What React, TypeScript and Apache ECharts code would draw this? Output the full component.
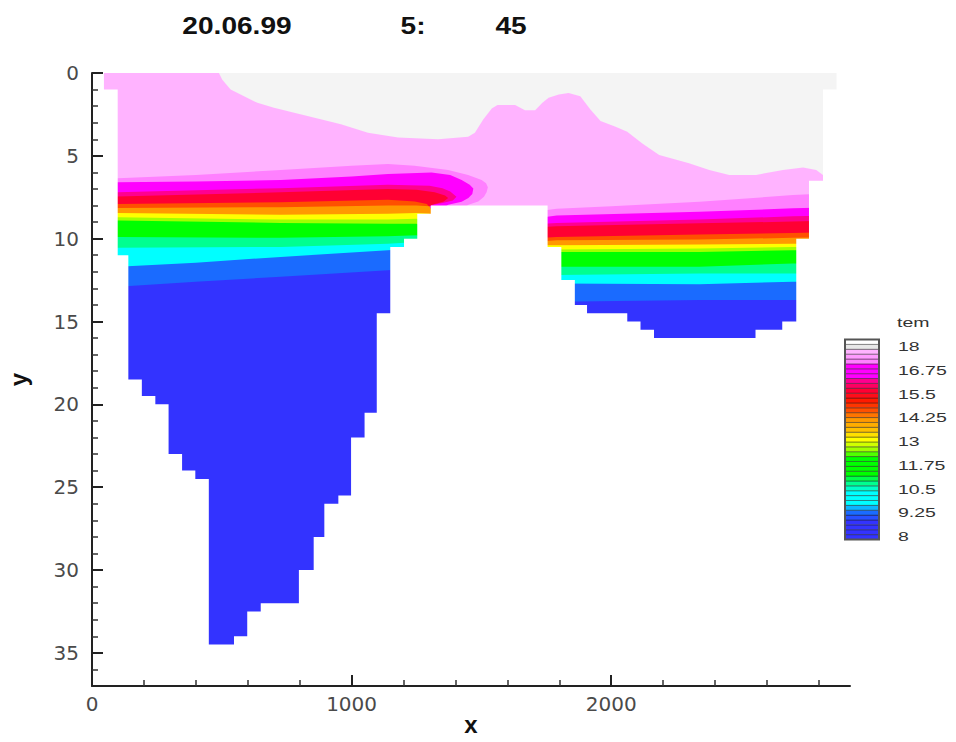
import { useEffect, useRef } from 'react';
import * as echarts from 'echarts';

// ---------- axes ----------
const X_MAX = 2920;
const Y_MAX = 37;
const xMajorTicks = [0, 1000, 2000];
const xMinorTicks = [200, 400, 600, 800, 1200, 1400, 1600, 1800, 2200, 2400, 2600, 2800];
const yMajorTicks = [0, 5, 10, 15, 20, 25, 30, 35];
const yMinorTicks = [1, 2, 3, 4, 6, 7, 8, 9, 11, 12, 13, 14, 16, 17, 18, 19, 21, 22, 23, 24, 26, 27, 28, 29, 31, 32, 33, 34, 36];

// ---------- header ----------
const headerTexts = ['20.06.99', '5:', '45'];

// ---------- model grid: column edges (m) and bottom depth (m) ----------
const columnEdges = [46, 99, 140, 192, 244, 295, 347, 398, 450, 547, 598, 650, 797, 854, 895, 949, 998, 1050, 1097, 1149, 1202, 1253, 1305, 1755, 1808, 1860, 1907, 2062, 2113, 2165, 2556, 2659, 2713, 2762, 2816, 2868];
const columnBottoms = [1, 11, 18.5, 19.5, 20, 23, 24, 24.5, 34.5, 34, 32.5, 32, 30, 28, 26, 25.5, 22, 20.5, 14.5, 10.5, 10, 8.5, 8, 10.5, 12.5, 14, 14.5, 15, 15.5, 16, 15.5, 15, 10, 6.5, 1];

// ---------- temperature field (isotherm depths) ----------
const surfaceColor = '#f4f4f4'; // warmer than 17.75
// isotherm temperatures (°C) and the fill of the colder side
const isothermTemps = [17.75, 17.25, 17, 16.25, 15.75, 15, 14.25, 13.5, 13, 12.25, 11.25, 10.5, 9.75, 9];
const bandFills = ['#ffb3ff', '#ff80ff', '#ff00ff', '#ff0090', '#ff0033', '#ff5000', '#ff9900', '#ffff00', '#a0ff00', '#00ff00', '#00ff90', '#00ffff', '#1a6bff', '#3333ff'];

// 17.75 isotherm across the whole section [x, depth]
const surfaceIsotherm = [[46, 0], [489, 0], [502, 0.4], [534, 1.0], [637, 1.8], [701, 2.1], [830, 2.6], [959, 3.1], [1063, 3.6], [1179, 3.9], [1333, 4.0], [1449, 3.85], [1475, 3.6], [1507, 2.8], [1540, 2.15], [1562, 1.93], [1630, 1.93], [1668, 2.25], [1707, 2.25], [1735, 1.8], [1759, 1.5], [1798, 1.3], [1836, 1.2], [1881, 1.4], [1920, 2.2], [1959, 2.9], [2017, 3.25], [2062, 3.55], [2120, 4.25], [2185, 4.95], [2300, 5.45], [2378, 5.85], [2455, 6.15], [2558, 6.15], [2662, 5.85], [2739, 5.7], [2790, 5.85], [2816, 6.15], [2868, 6.3]];

// western basin isotherms 17.25 ... 9
const westIsotherms = [
  [[46, 6.4], [100, 6.35], [400, 6.15], [727, 5.86], [1000, 5.6], [1140, 5.5], [1243, 5.6], [1372, 5.86], [1449, 6.16], [1501, 6.46], [1518, 6.65], [1525, 6.9], [1520, 7.2], [1510, 7.47], [1488, 7.75], [1450, 7.95], [1420, 8.3]],
  [[46, 6.65], [100, 6.6], [400, 6.55], [727, 6.46], [1000, 6.25], [1140, 6.1], [1308, 6.0], [1380, 6.15], [1424, 6.46], [1455, 6.75], [1469, 6.97], [1465, 7.3], [1450, 7.55], [1424, 7.77], [1372, 7.95], [1340, 8.3]],
  [[46, 7.2], [100, 7.2], [727, 6.95], [1140, 6.75], [1300, 6.8], [1350, 6.95], [1380, 7.15], [1404, 7.47], [1390, 7.7], [1350, 7.85], [1300, 8.0], [1280, 8.3]],
  [[46, 7.45], [100, 7.45], [727, 7.2], [1140, 7.0], [1250, 7.05], [1320, 7.2], [1360, 7.4], [1372, 7.55], [1355, 7.75], [1310, 7.95], [1280, 8.3]],
  [[46, 7.9], [100, 7.9], [727, 7.8], [1140, 7.65], [1243, 7.75], [1290, 7.9], [1310, 8.3]],
  [[46, 8.15], [100, 8.15], [727, 8.1], [1140, 8.0], [1250, 8.0], [1300, 8.05], [1320, 8.6]],
  [[46, 8.45], [100, 8.45], [727, 8.55], [1140, 8.5], [1250, 8.45], [1300, 8.5], [1320, 8.8]],
  [[46, 8.7], [100, 8.7], [727, 8.85], [1140, 8.85], [1250, 8.8], [1320, 9.2]],
  [[46, 8.9], [100, 8.9], [727, 9.05], [1140, 9.1], [1250, 9.1], [1320, 9.5]],
  [[46, 9.9], [100, 9.9], [727, 9.95], [1140, 9.85], [1250, 9.8], [1320, 10.2]],
  [[46, 10.55], [100, 10.55], [727, 10.5], [1140, 10.3], [1250, 10.2], [1320, 10.5]],
  [[46, 11.7], [100, 11.7], [400, 11.45], [727, 11.1], [1140, 10.7], [1250, 10.6], [1320, 10.9]],
  [[46, 12.9], [100, 12.9], [400, 12.6], [727, 12.3], [1140, 11.9], [1250, 11.8], [1320, 12.1]],
];

// eastern basin isotherms 17.25 ... 9
const eastIsotherms = [
  [[1740, 8.3], [1790, 8.2], [2000, 8.05], [2340, 7.77], [2700, 7.37], [2868, 7.25]],
  [[1740, 8.7], [1790, 8.6], [2340, 8.37], [2700, 8.17], [2868, 8.1]],
  [[1740, 9.1], [1790, 9.05], [2340, 8.85], [2700, 8.65], [2868, 8.6]],
  [[1740, 9.3], [1790, 9.25], [2340, 9.07], [2700, 8.97], [2868, 8.9]],
  [[1740, 9.95], [1790, 9.9], [2340, 9.75], [2700, 9.65], [2868, 9.6]],
  [[1740, 10.15], [1790, 10.1], [2340, 10.05], [2700, 9.95], [2868, 9.9]],
  [[1740, 10.4], [1790, 10.4], [2340, 10.35], [2700, 10.3], [2868, 10.3]],
  [[1740, 10.65], [1790, 10.65], [2340, 10.6], [2700, 10.5], [2868, 10.5]],
  [[1740, 10.8], [1790, 10.8], [2340, 10.8], [2700, 10.7], [2868, 10.7]],
  [[1740, 11.7], [1790, 11.7], [2340, 11.7], [2700, 11.5], [2868, 11.5]],
  [[1740, 12.2], [1790, 12.2], [2340, 12.1], [2700, 12.1], [2868, 12.1]],
  [[1740, 12.7], [1790, 12.7], [2340, 12.75], [2700, 12.6], [2868, 12.6]],
  [[1740, 13.8], [1790, 13.8], [2340, 13.7], [2700, 13.7], [2868, 13.7]],
];

// ---------- legend ----------
const legendTitle = 'tem';
const legendLevels = [8, 8.25, 8.5, 8.75, 9, 9.25, 9.5, 9.75, 10, 10.25, 10.5, 10.75, 11, 11.25, 11.5, 11.75, 12, 12.25, 12.5, 12.75, 13, 13.25, 13.5, 13.75, 14, 14.25, 14.5, 14.75, 15, 15.25, 15.5, 15.75, 16, 16.25, 16.5, 16.75, 17, 17.25, 17.5, 17.75, 18];
const legendLabels = ['18', '16.75', '15.5', '14.25', '13', '11.75', '10.5', '9.25', '8'];
const colorStops: [number, string][] = [
  [8, '#3333ff'], [8.75, '#3333ff'], [9.25, '#1a6bff'], [9.75, '#00ffff'], [10.25, '#00ffff'],
  [10.75, '#00ff90'], [11.25, '#00ff00'], [12, '#00ff00'], [12.5, '#a0ff00'], [13, '#ffff00'],
  [13.5, '#ffc000'], [14, '#ff9900'], [14.5, '#ff5000'], [15, '#ff1a00'], [15.5, '#ff0033'],
  [16, '#ff0090'], [16.25, '#ff00ff'], [16.75, '#ff00ff'], [17, '#ff80ff'], [17.5, '#ffb3ff'],
  [17.75, '#e8e8e8'], [18, '#ffffff'],
];

function hexToRgb(h: string) {
  const n = parseInt(h.slice(1), 16);
  return [(n >> 16) & 255, (n >> 8) & 255, n & 255];
}
function colorAt(t: number) {
  for (let i = 0; i < colorStops.length - 1; i++) {
    const [t0, c0] = colorStops[i];
    const [t1, c1] = colorStops[i + 1];
    if (t >= t0 && t <= t1) {
      const f = t1 === t0 ? 0 : (t - t0) / (t1 - t0);
      const a = hexToRgb(c0), b = hexToRgb(c1);
      const m = a.map((v, k) => Math.round(v + (b[k] - v) * f));
      return `rgb(${m[0]},${m[1]},${m[2]})`;
    }
  }
  return colorStops[colorStops.length - 1][1];
}

type Layer = { pts: number[][]; fill: string };

function closeDown(line: number[][]): number[][] {
  const first = line[0];
  const last = line[line.length - 1];
  return [...line, [last[0], Y_MAX], [first[0], Y_MAX]];
}

function buildLayers(): Layer[] {
  const layers: Layer[] = [];
  const x0 = columnEdges[0];
  const x1 = columnEdges[columnEdges.length - 1];
  layers.push({ pts: [[x0, 0], [x1, 0], [x1, Y_MAX], [x0, Y_MAX]], fill: surfaceColor });
  layers.push({ pts: closeDown(surfaceIsotherm), fill: bandFills[0] });
  for (let k = 0; k < westIsotherms.length; k++) {
    layers.push({ pts: closeDown(westIsotherms[k]), fill: bandFills[k + 1] });
    layers.push({ pts: closeDown(eastIsotherms[k]), fill: bandFills[k + 1] });
  }
  // land: everything below the stepped bottom (slightly wider than the water so no edge shows)
  const pad = 25;
  const mask: number[][] = [[x0 - pad, Y_MAX], [x0 - pad, columnBottoms[0]]];
  for (let i = 0; i < columnBottoms.length; i++) {
    mask.push([columnEdges[i], columnBottoms[i]], [columnEdges[i + 1], columnBottoms[i]]);
  }
  mask.push([x1 + pad, columnBottoms[columnBottoms.length - 1]], [x1 + pad, Y_MAX]);
  layers.push({ pts: mask, fill: '#ffffff' });
  return layers;
}

const GRID = { left: 92, top: 73, width: 758, height: 613 };

export default function App() {
  const ref = useRef<HTMLDivElement>(null);

  useEffect(() => {
    if (!ref.current) return;
    const chart = echarts.init(ref.current, null, { renderer: 'svg' });
    const layers = buildLayers();

    // legend geometry
    const barLeft = 845, barRight = 879, barTop = 339.5, barBottom = 539.5;
    const bandH = (barBottom - barTop) / legendLevels.length;
    const legendEls: any[] = legendLevels.map((lv, i) => ({
      type: 'rect',
      shape: { x: barLeft, y: barBottom - (i + 1) * bandH, width: barRight - barLeft, height: bandH },
      style: { fill: colorAt(lv), stroke: 'rgba(30,30,30,0.55)', lineWidth: 0.8 },
      silent: true,
    }));
    legendEls.push({
      type: 'rect',
      shape: { x: barLeft, y: barTop, width: barRight - barLeft, height: barBottom - barTop },
      style: { fill: 'none', stroke: '#555', lineWidth: 2 },
      silent: true,
    });
    legendLabels.forEach((lab) => {
      const t = parseFloat(lab);
      legendEls.push({
        type: 'text',
        x: 898,
        y: barBottom - 2.8 - ((t - 8) / 10) * (barBottom - barTop - 10),
        scaleX: 1.5,
        style: { text: lab, font: '13px "Liberation Sans"', fill: '#333', textAlign: 'left', textVerticalAlign: 'middle' },
        silent: true,
      });
    });
    legendEls.push({
      type: 'text', x: 897, y: 323, scaleX: 1.5,
      style: { text: legendTitle, font: '13px "Liberation Sans"', fill: '#333', textAlign: 'left', textVerticalAlign: 'middle' },
      silent: true,
    });

    const headerX = [237, 413, 511];
    const headerEls = headerTexts.map((t, i) => ({
      type: 'text', x: headerX[i], y: 26, scaleX: 1.17,
      style: { text: t, font: 'bold 24px "Liberation Sans"', fill: '#111', textAlign: 'center', textVerticalAlign: 'middle' },
      silent: true,
    }));

    const labelFont = { color: '#4a4a4a', fontFamily: 'DejaVu Sans', fontSize: 20 };
    const nameFont = { color: '#111', fontFamily: 'Liberation Sans', fontWeight: 'bold' as const, fontSize: 24, lineHeight: 24 };
    const plain = (v: number) => String(v);

    chart.setOption({
      animation: false,
      backgroundColor: '#ffffff',
      grid: [
        { ...GRID, containLabel: false, outerBoundsMode: 'none' },
        { ...GRID, containLabel: false, outerBoundsMode: 'none' },
      ],
      xAxis: [
        {
          gridIndex: 0, type: 'value', min: 0, max: X_MAX, position: 'bottom', z: 10,
          axisLine: { show: true, onZero: false, lineStyle: { color: '#222', width: 2 } },
          axisTick: { show: true, inside: true, length: 11, customValues: xMajorTicks, lineStyle: { color: '#222', width: 2 } },
          axisLabel: { show: true, customValues: xMajorTicks, margin: 8, formatter: plain, ...labelFont },
          splitLine: { show: false },
          name: 'x', nameLocation: 'middle', nameGap: 26, nameMoveOverlap: false, nameTextStyle: nameFont,
        },
        {
          gridIndex: 1, type: 'value', min: 0, max: X_MAX, position: 'bottom', z: 10,
          axisLine: { show: false, onZero: false },
          axisTick: { show: true, inside: true, length: 6, customValues: xMinorTicks, lineStyle: { color: '#333', width: 1.5 } },
          axisLabel: { show: false },
          splitLine: { show: false },
        },
      ],
      yAxis: [
        {
          gridIndex: 0, type: 'value', min: 0, max: Y_MAX, inverse: true, position: 'left', z: 10,
          axisLine: { show: true, onZero: false, lineStyle: { color: '#222', width: 2 } },
          axisTick: { show: true, inside: true, length: 11, customValues: yMajorTicks, lineStyle: { color: '#222', width: 2 } },
          axisLabel: { show: true, customValues: yMajorTicks, margin: 13, formatter: plain, ...labelFont },
          splitLine: { show: false },
          name: 'y', nameLocation: 'middle', nameGap: 62, nameMoveOverlap: false, nameTextStyle: nameFont,
        },
        {
          gridIndex: 1, type: 'value', min: 0, max: Y_MAX, inverse: true, position: 'left', z: 10,
          axisLine: { show: false, onZero: false },
          axisTick: { show: true, inside: true, length: 6, customValues: yMinorTicks, lineStyle: { color: '#333', width: 1.5 } },
          axisLabel: { show: false },
          splitLine: { show: false },
        },
      ],
      series: [
        {
          type: 'custom',
          name: 'tem',
          coordinateSystem: 'cartesian2d',
          xAxisIndex: 0,
          yAxisIndex: 0,
          clip: true,
          silent: true,
          z: 2,
          data: layers.map((_, i) => [i, 0]),
          renderItem: (params: any, api: any) => {
            const layer = layers[params.dataIndex];
            const points = layer.pts.map((p) => api.coord(p));
            return { type: 'polygon', shape: { points }, style: { fill: layer.fill } };
          },
        },
      ],
      graphic: [...headerEls, ...legendEls],
    });

    return () => chart.dispose();
  }, []);

  return (
    <div
      ref={ref}
      style={{ position: 'fixed', left: 0, top: 0, width: 956, height: 742, background: '#fff' }}
    />
  );
}
